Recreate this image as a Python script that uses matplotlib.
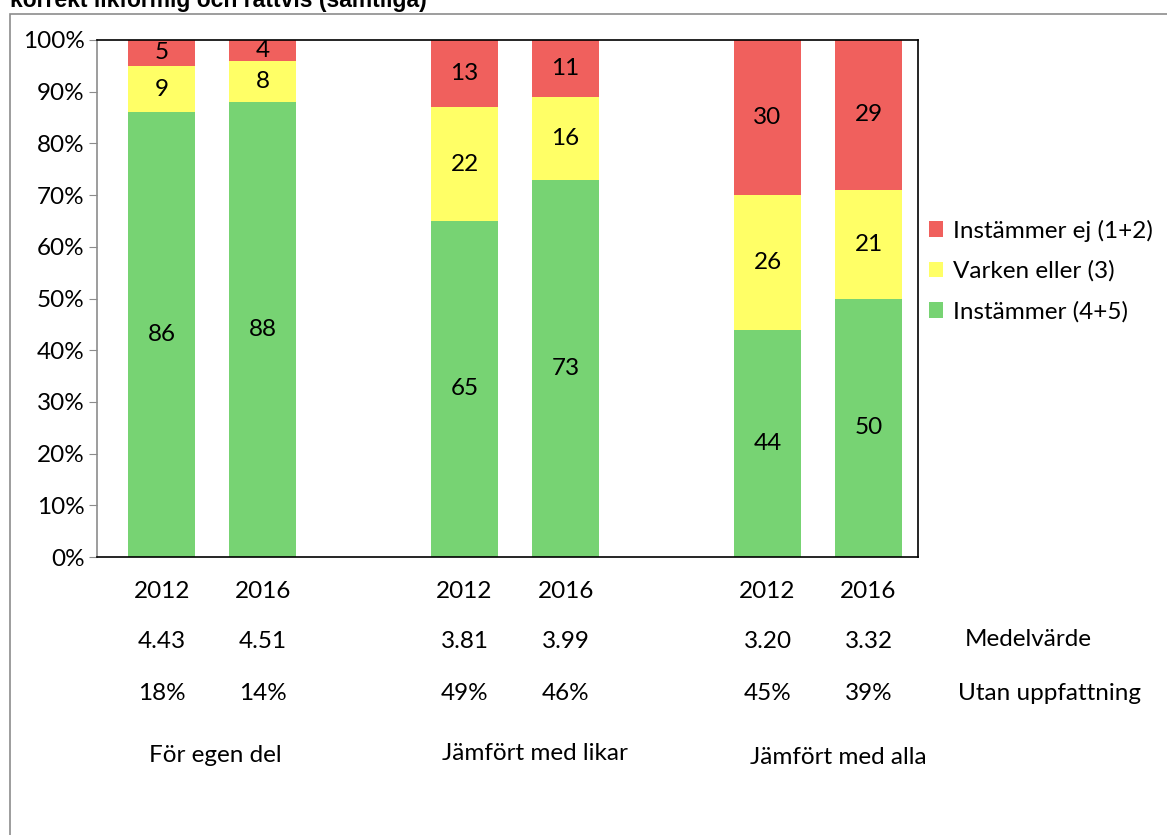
import matplotlib
matplotlib.use('Agg')
import matplotlib.pyplot as plt
from matplotlib.patches import Rectangle
import numpy as np

plt.rcParams['font.family'] = ['Lato', 'DejaVu Sans']

# data
years = ['2012', '2016', '2012', '2016', '2012', '2016']
instammer = [86, 88, 65, 73, 44, 50]
varken = [9, 8, 22, 16, 26, 21]
instammer_ej = [5, 4, 13, 11, 30, 29]
medelvarde = ['4.43', '4.51', '3.81', '3.99', '3.20', '3.32']
utan = ['18%', '14%', '49%', '46%', '45%', '39%']
groups = ['För egen del', 'Jämfört med likar', 'Jämfört med alla']
series_names = ['Instämmer ej (1+2)', 'Varken eller (3)', 'Instämmer (4+5)']

green = '#77d373'
yellow = '#ffff66'
red = '#f0605d'
fs = 17.5

W, H = 1167, 835
fig = plt.figure(figsize=(W / 100, H / 100), dpi=100)

def fy(py):
    return 1 - py / H

# outer frame (cut off at top/right)
fig.patches.append(Rectangle((10 / W, -0.1), 1.2, (H - 14) / H + 0.1, transform=fig.transFigure,
                             fill=False, edgecolor='#8c8c8c', linewidth=1.2))
fig.text(10 / W, fy(7), 'korrekt likformig och rättvis (samtliga)', fontsize=16.5,
         fontweight='bold', family=['Liberation Sans', 'DejaVu Sans'], va='baseline', ha='left')

ax = fig.add_axes([97 / W, 1 - 557 / H, (918 - 97) / W, (557 - 40) / H])
x = np.array([0, 1, 3, 4, 6, 7])
bw = 0.67

b1 = ax.bar(x, instammer, bw, color=green, label=series_names[2])
b2 = ax.bar(x, varken, bw, bottom=instammer, color=yellow, label=series_names[1])
bottom3 = np.array(instammer) + np.array(varken)
b3 = ax.bar(x, instammer_ej, bw, bottom=bottom3, color=red, label=series_names[0])

for bars in (b1, b2, b3):
    ax.bar_label(bars, label_type='center', fontsize=fs, color='black')

ax.set_xlim(-0.64, 7.49)
ax.set_ylim(0, 100)
ax.set_yticks(np.arange(0, 101, 10))
ax.set_yticklabels([f'{v}%' for v in range(0, 101, 10)], fontsize=fs)
ax.tick_params(axis='y', direction='out', length=6, color='#8c8c8c', pad=3)
ax.set_xticks([])
for s in ['top', 'right', 'bottom']:
    ax.spines[s].set_color('black')
    ax.spines[s].set_linewidth(1.2)
ax.spines['left'].set_color('#8c8c8c')
ax.spines['left'].set_linewidth(1.2)

for xi, yr, mv, ut in zip(x, years, medelvarde, utan):
    px = ax.transData.transform((xi, 0))[0] / W
    fig.text(px, fy(591), yr, ha='center', va='center', fontsize=fs)
    fig.text(px, fy(641), mv, ha='center', va='center', fontsize=fs)
    fig.text(px, fy(693), ut, ha='center', va='center', fontsize=fs)

fig.text(965 / W, fy(639), 'Medelvärde', ha='left', va='center', fontsize=fs)
fig.text(958 / W, fy(693), 'Utan uppfattning', ha='left', va='center', fontsize=fs)

for cx, g, py in zip([215, 535, 838], groups, [756, 754, 757]):
    fig.text(cx / W, fy(py), g, ha='center', va='center', fontsize=fs)

handles = [b3, b2, b1]
leg = fig.legend(handles, series_names, loc='center left', bbox_to_anchor=(919 / W, fy(271)),
                 frameon=False, fontsize=fs, handlelength=0.6, handleheight=0.6,
                 handletextpad=0.4, labelspacing=0.78, borderaxespad=0)

fig.savefig('out.png', dpi=100)
